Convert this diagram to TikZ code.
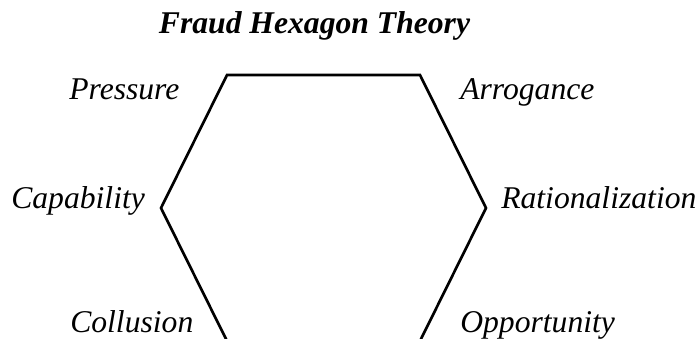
\documentclass[tikz,border=0pt]{standalone}
\usepackage{fontspec}
\setmainfont{Liberation Serif}
\usetikzlibrary{positioning}

\tikzset{
  factor/.style={font=\fontsize{22.5}{27}\selectfont\itshape, inner sep=0pt, anchor=base west},
  heading/.style={font=\fontsize{22.5}{27}\selectfont\bfseries\itshape, inner sep=0pt, anchor=base},
  hexline/.style={draw=black, line width=1.9pt, line join=miter},
}

\begin{document}
\begin{tikzpicture}[x=0.025cm, y=0.025cm]
    \useasboundingbox (0,0) rectangle (699,338);

    % Title
    \node[heading] (title) at (314.5, 305) {Fraud Hexagon Theory};

    % Hexagon corners
    \coordinate (topleft) at (227, 263);
    \coordinate (topright) at (420, 263);
    \coordinate (right) at (486, 130);
    \coordinate (botright) at (420, -3);
    \coordinate (botleft) at (227, -3);
    \coordinate (left) at (161, 130);

    \draw[hexline] (topleft) -- (topright) -- (right) -- (botright) -- (botleft) -- (left) -- cycle;

    % Elements
    \node[factor] (pressure) at (69, 239) {Pressure};
    \node[factor] (arrogance) at (460, 239) {Arrogance};
    \node[factor] (capability) at (11, 130) {Capability};
    \node[factor] (rational) at (501, 130) {Rationalization};
    \node[factor] (collusion) at (70, 6) {Collusion};
    \node[factor] (opportunity) at (460, 6) {Opportunity};
\end{tikzpicture}
\end{document}
